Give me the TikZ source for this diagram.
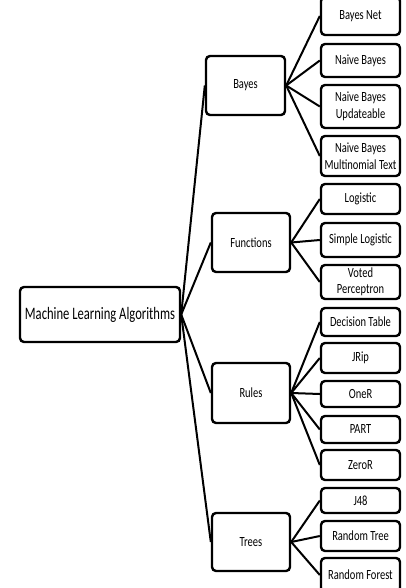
\documentclass[tikz,border=0pt]{standalone}
\usepackage{fontspec}
\setmainfont{Carlito}[FakeStretch=0.75]
\newfontfamily\rootfont{Carlito}[FakeStretch=0.72]
\begin{document}
\begin{tikzpicture}[x=1pt,y=-1pt,
  box/.style={draw=black,line width=2.4pt,rounded corners=4pt,inner sep=0pt,align=center,font=\fontsize{14}{16.5}\selectfont},
  link/.style={draw=black,line width=2pt}]
\useasboundingbox (0,0) rectangle (406,588);
\clip (0,0) rectangle (406,588);
% root
\node[box,minimum width=160pt,minimum height=55pt,font=\rootfont\fontsize{17.5}{20}\selectfont] (root) at (100,314.5) {Machine Learning Algorithms};
% groups
\node[box,minimum width=79pt,minimum height=59pt] (bayes) at (245.5,85.5) {Bayes};
\node[box,minimum width=78pt,minimum height=59pt] (func) at (251,242.5) {Functions};
\node[box,minimum width=78pt,minimum height=60pt] (rules) at (251,393) {Rules};
\node[box,minimum width=78pt,minimum height=58pt] (trees) at (251,542) {Trees};
% leaves
\node[box,minimum width=79pt,minimum height=38pt] (bn) at (360.5,16) {Bayes Net};
\node[box,minimum width=79pt,minimum height=33pt] (nb) at (360.5,60.5) {Naive Bayes};
\node[box,minimum width=79pt,minimum height=43pt] (nbu) at (360.5,106.5) {Naive Bayes\\Updateable};
\node[box,minimum width=79pt,minimum height=40pt] (nbm) at (360.5,156) {Naive Bayes\\Multinomial Text};
\node[box,minimum width=79pt,minimum height=30pt] (log) at (360.5,199) {Logistic};
\node[box,minimum width=79pt,minimum height=34pt] (slog) at (360.5,240) {Simple Logistic};
\node[box,minimum width=79pt,minimum height=34pt] (vp) at (360.5,282) {Voted\\Perceptron};
\node[box,minimum width=79pt,minimum height=28pt] (dt) at (360.5,322) {Decision Table};
\node[box,minimum width=79pt,minimum height=30pt] (jrip) at (360.5,358) {JRip};
\node[box,minimum width=79pt,minimum height=26pt] (oner) at (360.5,394) {OneR};
\node[box,minimum width=79pt,minimum height=27pt] (part) at (360.5,429.5) {PART};
\node[box,minimum width=79pt,minimum height=30pt] (zeror) at (360.5,465) {ZeroR};
\node[box,minimum width=79pt,minimum height=25pt] (j48) at (360.5,500.5) {J48};
\node[box,minimum width=79pt,minimum height=30pt] (rt) at (360.5,536) {Random Tree};
\node[box,minimum width=79pt,minimum height=34pt] (rf) at (360.5,575) {Random Forest};
% connectors
\foreach \g in {bayes,func,rules,trees} \draw[link] (root.east) -- (\g.west);
\foreach \l in {bn,nb,nbu,nbm} \draw[link] (bayes.east) -- (\l.west);
\foreach \l in {log,slog,vp} \draw[link] (func.east) -- (\l.west);
\foreach \l in {dt,jrip,oner,part,zeror} \draw[link] (rules.east) -- (\l.west);
\foreach \l in {j48,rt,rf} \draw[link] (trees.east) -- (\l.west);
\end{tikzpicture}
\end{document}
